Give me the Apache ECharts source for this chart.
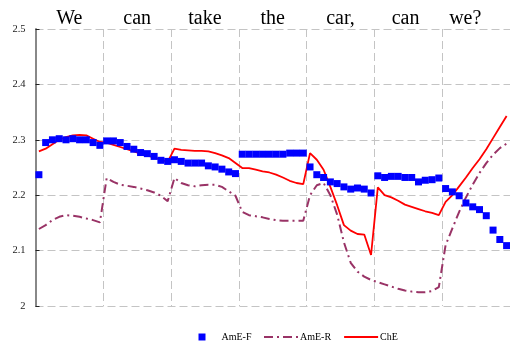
<!DOCTYPE html>
<html><head><meta charset="utf-8">
<script src="https://cdn.jsdelivr.net/npm/echarts@6/dist/echarts.min.js"></script>
<style>html,body{margin:0;padding:0;background:#fff}#c{width:510px;height:342px}</style>
</head><body><div id="c"></div>
<script>
const words = ['We', 'can', 'take', 'the', 'car,', 'can', 'we?'];
const wordTicks = [0.5, 1.5, 2.5, 3.5, 4.5, 5.46, 6.34];
const frames = Array.from({length: 70}, (_, i) => String(i + 1));
const yTicks = [2, 2.1, 2.2, 2.3, 2.4, 2.5];

const ameF = [2.237,2.295,2.300,2.302,2.300,2.302,2.300,2.300,2.295,2.290,
2.298,2.298,2.295,2.288,2.283,2.277,2.275,2.270,2.263,2.261,
2.264,2.261,2.258,2.258,2.258,2.253,2.251,2.247,2.242,2.239,
2.274,2.274,2.274,2.274,2.274,2.274,2.274,2.276,2.276,2.276,
2.251,2.237,2.232,2.224,2.221,2.215,2.211,2.213,2.211,2.204,
2.235,2.232,2.234,2.234,2.232,2.232,2.224,2.227,2.228,2.231,
2.212,2.206,2.199,2.186,2.179,2.174,2.163,2.137,2.120,2.109];

const ameR = [2.139,2.146,2.155,2.161,2.164,2.163,2.161,2.158,2.155,2.151,
2.231,2.224,2.219,2.217,2.215,2.212,2.209,2.205,2.199,2.189,
2.231,2.222,2.218,2.216,2.218,2.219,2.219,2.215,2.207,2.199,
2.170,2.164,2.162,2.160,2.157,2.155,2.154,2.154,2.154,2.154,
2.200,2.218,2.222,2.200,2.165,2.115,2.078,2.062,2.053,2.047,
2.043,2.039,2.035,2.031,2.028,2.026,2.025,2.025,2.027,2.034,
2.110,2.140,2.170,2.196,2.219,2.240,2.258,2.273,2.285,2.293];

const chE = [2.279,2.284,2.292,2.300,2.305,2.308,2.309,2.308,2.302,2.296,
2.295,2.291,2.287,2.283,2.279,2.275,2.272,2.268,2.264,2.260,
2.284,2.282,2.281,2.280,2.280,2.279,2.276,2.272,2.267,2.258,
2.249,2.249,2.246,2.243,2.241,2.237,2.232,2.226,2.222,2.220,
2.276,2.264,2.246,2.215,2.182,2.146,2.136,2.130,2.129,2.092,
2.214,2.200,2.196,2.190,2.183,2.179,2.175,2.171,2.168,2.164,
2.188,2.200,2.216,2.232,2.249,2.265,2.283,2.303,2.323,2.343];

const serif = 'Liberation Serif';
const legendText = {fontFamily: serif, fontSize: 10, color: '#000'};
const chart = echarts.init(document.getElementById('c'), null, {renderer: 'canvas'});
chart.setOption({
  animation: false,
  backgroundColor: '#fff',
  grid: {left: 35.5, right: -5.5, top: 29, bottom: 36, containLabel: false},
  xAxis: [{
    type: 'category', data: frames, boundaryGap: true, position: 'bottom',
    axisLine: {show: false}, axisTick: {show: false}, axisLabel: {show: false},
    splitLine: {show: true, interval: (i) => i % 10 === 0,
      lineStyle: {color: '#c4c4c4', width: 1, type: [8, 4]}}
  }, {
    type: 'value', min: 0, max: 7, interval: 1, position: 'top',
    axisLine: {show: false}, axisTick: {show: false}, splitLine: {show: false},
    axisLabel: {show: true, customValues: wordTicks, margin: 0,
      fontFamily: serif, fontSize: 20, color: '#000',
      formatter: (v) => { const k = wordTicks.findIndex(t => Math.abs(t - v) < 1e-6); return k >= 0 ? words[k] : ''; }}
  }],
  yAxis: {
    type: 'value', min: yTicks[0], max: yTicks[yTicks.length - 1], interval: 0.1,
    axisLine: {show: true, lineStyle: {color: '#888', width: 2}},
    axisTick: {show: true, inside: true, length: 4, lineStyle: {color: '#222', width: 1}},
    axisLabel: {fontFamily: serif, fontSize: 10.5, color: '#222', margin: 10},
    splitLine: {show: true, lineStyle: {color: '#c4c4c4', width: 1, type: [8, 4]}}
  },
  legend: [{
    left: 193.5, top: 327, itemWidth: 7, itemHeight: 7,
    textStyle: Object.assign({padding: [0, 0, 0, 11]}, legendText),
    data: [{name: 'AmE-F', icon: 'rect'}]
  }, {
    left: 258, top: 327, itemWidth: 34, itemHeight: 7, itemGap: 12,
    textStyle: Object.assign({padding: [0, 0, 0, -3]}, legendText),
    data: [{name: 'AmE-R', itemStyle: {opacity: 0}}, {name: 'ChE', itemStyle: {opacity: 0}}]
  }],
  series: [{
    name: 'AmE-R', type: 'line', data: ameR, symbol: 'none', xAxisIndex: 0,
    lineStyle: {color: '#993366', width: 2, type: [9, 4, 2, 4]}, itemStyle: {color: '#993366'}, z: 2
  }, {
    name: 'ChE', type: 'line', data: chE, symbol: 'none', xAxisIndex: 0,
    lineStyle: {color: '#ff0000', width: 1.8}, itemStyle: {color: '#ff0000'}, z: 3
  }, {
    name: 'AmE-F', type: 'scatter', data: ameF, symbol: 'rect', symbolSize: 7, xAxisIndex: 0,
    itemStyle: {color: '#0000ff', opacity: 1}, z: 4
  }]
});
</script></body></html>
